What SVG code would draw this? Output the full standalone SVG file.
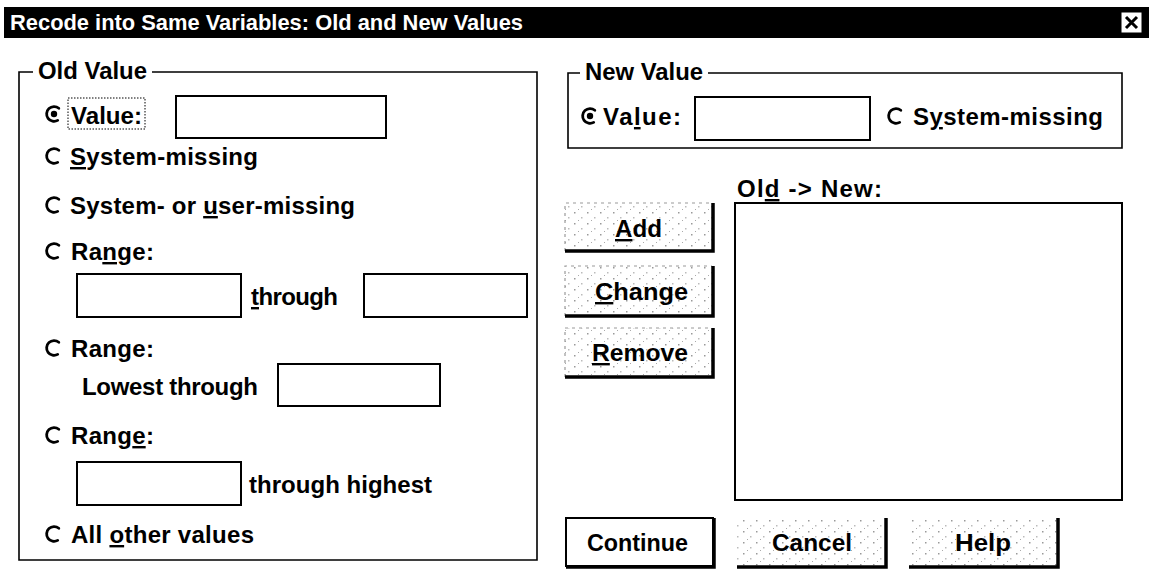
<svg xmlns="http://www.w3.org/2000/svg" width="1149" height="581" viewBox="0 0 1149 581">
<style>
text{font-family:"Liberation Sans",Arial,sans-serif;font-weight:bold;font-size:24px;fill:#000}
.title{fill:#fff;font-size:22px}
.frame{fill:none;stroke:#000;stroke-width:1.6}
.box{fill:#fff;stroke:#000;stroke-width:2}
.rad{fill:none;stroke:#000;stroke-width:2.8;stroke-linecap:round}
.u{text-decoration:underline}
.shadow{fill:none;stroke:#000;stroke-width:3.5}
.hl{fill:none;stroke:#9a9a9a;stroke-width:1.2;stroke-dasharray:3 4}
.focus{fill:none;stroke:#000;stroke-width:1;stroke-dasharray:1.5 1.5}
</style>
<defs>
<path id="radio" class="rad" d="M4.8,-5.7 A7.4,7.4 0 1 0 3.7,6.4"/>
<g id="radioOn"><use href="#radio"/><circle r="3.2" fill="#000"/></g>
<pattern id="speck" width="13" height="11" patternUnits="userSpaceOnUse">
<rect x="2" y="3" width="1.5" height="1.5" fill="#999"/>
<rect x="9" y="8" width="1.5" height="1.5" fill="#bbb"/>
<rect x="6" y="0" width="1" height="1" fill="#aaa"/>
</pattern>
</defs>
<rect width="1149" height="581" fill="#fff"/>

<g id="titlebar">
<rect x="4" y="7" width="1145" height="31" fill="#000"/>
<text class="title" x="10" y="30" textLength="513" lengthAdjust="spacingAndGlyphs">Recode into Same Variables: Old and New Values</text>
<rect x="1121" y="12" width="21" height="21" fill="#fff" stroke="#000" stroke-width="1"/>
<path d="M1126,17 L1137,28 M1137,17 L1126,28" stroke="#000" stroke-width="3"/>
</g>

<g id="old-value">
<path class="frame" d="M33,72 H19 V560 H537 V72 H152"/>
<text x="38" y="79" textLength="109" lengthAdjust="spacingAndGlyphs">Old Value</text>
<g id="old-value-radio">
<use href="#radioOn" x="54" y="114"/>
<rect class="focus" x="68" y="98" width="77" height="31"/>
<text x="71" y="124" textLength="71" lengthAdjust="spacingAndGlyphs">Value:</text>
<rect class="box" x="176" y="96" width="210" height="42"/>
</g>
<g id="old-sysmis">
<use href="#radio" x="54" y="156"/>
<text x="70" y="165" textLength="188" lengthAdjust="spacing"><tspan class="u">S</tspan>ystem-missing</text>
</g>
<g id="old-sysusermis">
<use href="#radio" x="54" y="205"/>
<text x="70" y="214" textLength="285" lengthAdjust="spacing">System- or <tspan class="u">u</tspan>ser-missing</text>
</g>
<g id="old-range1">
<use href="#radio" x="54" y="251"/>
<text x="71" y="260" textLength="83" lengthAdjust="spacing">Ra<tspan class="u">n</tspan>ge:</text>
<rect class="box" x="77" y="274" width="164" height="43"/>
<text x="251" y="305" textLength="87" lengthAdjust="spacing"><tspan class="u">t</tspan>hrough</text>
<rect class="box" x="364" y="274" width="163" height="43"/>
</g>
<g id="old-range2">
<use href="#radio" x="54" y="348"/>
<text x="71" y="357" textLength="83" lengthAdjust="spacing">Ran<tspan class="u">g</tspan>e:</text>
<text x="82" y="395" textLength="176" lengthAdjust="spacing">Lowest through</text>
<rect class="box" x="278" y="364" width="162" height="42"/>
</g>
<g id="old-range3">
<use href="#radio" x="54" y="435"/>
<text x="71" y="444" textLength="83" lengthAdjust="spacing">Rang<tspan class="u">e</tspan>:</text>
<rect class="box" x="77" y="462" width="164" height="43"/>
<text x="249" y="493" textLength="183" lengthAdjust="spacing">through highest</text>
</g>
<g id="old-else">
<use href="#radio" x="54" y="534"/>
<text x="71" y="543" textLength="183" lengthAdjust="spacing">All <tspan class="u">o</tspan>ther values</text>
</g>
</g>

<g id="new-value">
<path class="frame" d="M580,73 H568 V148 H1122 V73 H708"/>
<text x="585" y="80" textLength="118" lengthAdjust="spacingAndGlyphs">New Value</text>
<g id="new-value-radio">
<use href="#radioOn" x="590" y="116"/>
<text x="603" y="125" textLength="78" lengthAdjust="spacing">Va<tspan class="u">l</tspan>ue:</text>
<rect class="box" x="695" y="97" width="175" height="43"/>
</g>
<g id="new-sysmis">
<use href="#radio" x="896" y="116"/>
<text x="913" y="125" textLength="190" lengthAdjust="spacing">S<tspan class="u">y</tspan>stem-missing</text>
</g>
</g>

<g id="old-new-list">
<text x="737" y="197" textLength="145" lengthAdjust="spacing">Ol<tspan class="u">d</tspan> -&gt; New:</text>
<rect class="box" x="735" y="203" width="387" height="297"/>
</g>

<g id="btn-add">
<rect x="565" y="203" width="149" height="49" fill="url(#speck)"/>
<path class="hl" d="M565,251 V203 H712"/>
<path class="shadow" d="M713,203 V251 H565"/>
<text x="615" y="237" textLength="47" lengthAdjust="spacingAndGlyphs"><tspan class="u">A</tspan>dd</text>
</g>
<g id="btn-change">
<rect x="565" y="266" width="149" height="51" fill="url(#speck)"/>
<path class="hl" d="M565,316 V266 H712"/>
<path class="shadow" d="M713,266 V316 H565"/>
<text x="595" y="300" textLength="93" lengthAdjust="spacingAndGlyphs"><tspan class="u">C</tspan>hange</text>
</g>
<g id="btn-remove">
<rect x="565" y="328" width="149" height="50" fill="url(#speck)"/>
<path class="hl" d="M565,377 V328 H712"/>
<path class="shadow" d="M713,328 V377 H565"/>
<text x="592" y="361" textLength="96" lengthAdjust="spacingAndGlyphs"><tspan class="u">R</tspan>emove</text>
</g>

<g id="btn-continue">
<rect x="566" y="518" width="147" height="48" fill="#fff" stroke="#000" stroke-width="2"/>
<path class="shadow" d="M714,518 V567 H566"/>
<text x="587" y="551" textLength="101" lengthAdjust="spacingAndGlyphs">Continue</text>
</g>
<g id="btn-cancel">
<rect x="737" y="518" width="150" height="49" fill="url(#speck)"/>
<path class="shadow" d="M886,518 V567 H737"/>
<text x="772" y="551" textLength="80" lengthAdjust="spacingAndGlyphs">Cancel</text>
</g>
<g id="btn-help">
<rect x="909" y="518" width="150" height="49" fill="url(#speck)"/>
<path class="shadow" d="M1058,518 V567 H909"/>
<text x="955" y="551" textLength="56" lengthAdjust="spacingAndGlyphs">Help</text>
</g>
</svg>
